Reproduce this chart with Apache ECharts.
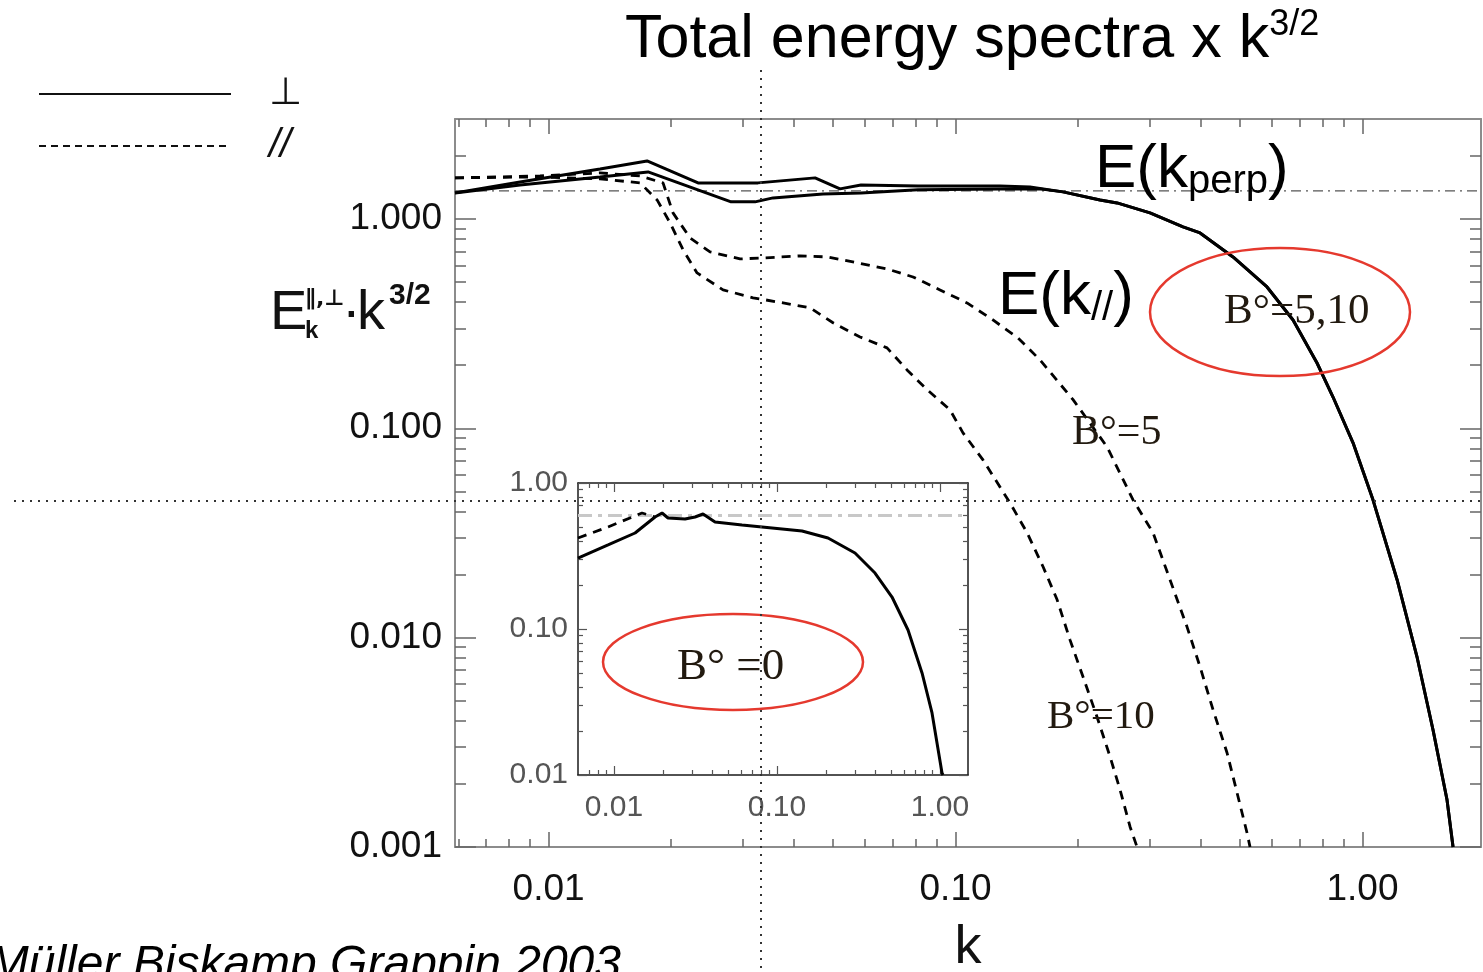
<!DOCTYPE html>
<html>
<head>
<meta charset="utf-8">
<title>Total energy spectra x k^3/2</title>
<script src="https://cdn.jsdelivr.net/npm/echarts@6/dist/echarts.min.js"></script>
<style>
  html, body { margin: 0; padding: 0; background: #fff; }
  #chart { width: 1483px; height: 972px; }
</style>
</head>
<body>
<div id="chart"></div>
<script>
// axis ranges
const mainK = [0.00589, 1.955];
const mainE = [0.001, 3.0];
const insetK = [0.00601, 1.485];
const insetE = [0.01, 1.0];

// tick positions
const kMajor = [0.01, 0.1, 1];
const kMinor = [0.006, 0.007, 0.008, 0.009, 0.02, 0.03, 0.04, 0.05, 0.06, 0.07, 0.08, 0.09,
  0.2, 0.3, 0.4, 0.5, 0.6, 0.7, 0.8, 0.9];
const eMajor = [0.001, 0.01, 0.1, 1];
const eMinor = [0.002, 0.003, 0.004, 0.005, 0.006, 0.007, 0.008, 0.009,
  0.02, 0.03, 0.04, 0.05, 0.06, 0.07, 0.08, 0.09,
  0.2, 0.3, 0.4, 0.5, 0.6, 0.7, 0.8, 0.9, 2];
const insetKMinor = [0.007, 0.008, 0.009, 0.02, 0.03, 0.04, 0.05, 0.06, 0.07, 0.08, 0.09,
  0.2, 0.3, 0.4, 0.5, 0.6, 0.7, 0.8, 0.9];
const insetEMinor = [0.02, 0.03, 0.04, 0.05, 0.06, 0.07, 0.08, 0.09,
  0.2, 0.3, 0.4, 0.5, 0.6, 0.7, 0.8, 0.9];

// [k, E k^3/2]  perpendicular spectra, B0 = 5 and B0 = 10
const perpB5 = [
  [0.00589, 1.331], [0.00851, 1.502], [0.01338, 1.733], [0.01746, 1.892], [0.0233, 1.486],
  [0.03271, 1.486], [0.04517, 1.570], [0.05202, 1.391], [0.05858, 1.453], [0.08089, 1.437],
  [0.1286, 1.437], [0.1524, 1.421], [0.1837, 1.346], [0.2265, 1.232], [0.2494, 1.192],
  [0.3005, 1.068], [0.3622, 0.916], [0.3989, 0.857], [0.4806, 0.658], [0.5826, 0.473],
  [0.675, 0.329], [0.7731, 0.205], [0.8463, 0.141], [0.9478, 0.0852], [1.061, 0.0455],
  [1.216, 0.0189], [1.361, 0.0081], [1.49, 0.00363], [1.613, 0.00168], [1.669, 0.001]
];
const perpB10 = [
  [0.00589, 1.331], [0.00851, 1.453], [0.01338, 1.587], [0.01756, 1.676], [0.02809, 1.206],
  [0.03217, 1.206], [0.03561, 1.260], [0.04725, 1.316], [0.05858, 1.331], [0.08089, 1.376],
  [0.1286, 1.391], [0.1613, 1.391], [0.1837, 1.346], [0.2265, 1.232], [0.2494, 1.192],
  [0.3005, 1.068], [0.3622, 0.916], [0.3989, 0.857], [0.4806, 0.658], [0.5826, 0.473],
  [0.675, 0.329], [0.7731, 0.205], [0.8463, 0.141], [0.9478, 0.0852], [1.061, 0.0455],
  [1.216, 0.0189], [1.361, 0.0081], [1.49, 0.00363], [1.613, 0.00168], [1.669, 0.001]
];
// parallel spectra
const parB5 = [
  [0.00589, 1.570], [0.00953, 1.604], [0.01338, 1.658], [0.01678, 1.604], [0.01911, 1.486],
  [0.02022, 1.068], [0.02227, 0.811], [0.02493, 0.696], [0.02955, 0.644], [0.03365, 0.651],
  [0.04148, 0.666], [0.04834, 0.658], [0.05728, 0.617], [0.06788, 0.577], [0.07863, 0.528],
  [0.0916, 0.458], [0.1067, 0.397], [0.1236, 0.329], [0.1424, 0.270], [0.1613, 0.212],
  [0.1944, 0.137], [0.2357, 0.0815], [0.273, 0.0455], [0.3057, 0.0317], [0.3365, 0.0189],
  [0.3705, 0.01126], [0.3989, 0.00725], [0.4293, 0.00452], [0.4646, 0.00282],
  [0.4916, 0.00182], [0.5202, 0.00117], [0.5292, 0.001]
];
const parB10 = [
  [0.00589, 1.570], [0.00953, 1.587], [0.01338, 1.553], [0.01678, 1.486], [0.01848, 1.232],
  [0.01989, 0.957], [0.02141, 0.711], [0.02317, 0.552], [0.02684, 0.458], [0.03181, 0.420],
  [0.0377, 0.397], [0.04391, 0.376], [0.05, 0.319], [0.05826, 0.273], [0.06788, 0.242],
  [0.076, 0.190], [0.08511, 0.153], [0.09694, 0.1224], [0.1043, 0.0951], [0.1168, 0.0706],
  [0.1361, 0.044], [0.1499, 0.0317], [0.1641, 0.0218], [0.1776, 0.0152], [0.1911, 0.00976],
  [0.2057, 0.0065], [0.2227, 0.00418], [0.2397, 0.0027], [0.2536, 0.00188],
  [0.2684, 0.00125], [0.2792, 0.001]
];
const refLevel = 1.36;

// inset, B0 = 0
const perpB0 = [
  [0.00601, 0.3064], [0.00919, 0.3762], [0.01346, 0.4545], [0.01785, 0.5851], [0.0197, 0.6229],
  [0.02144, 0.5757], [0.02727, 0.5667], [0.03141, 0.5851], [0.03516, 0.6132], [0.04165, 0.5406],
  [0.06099, 0.5157], [0.0809, 0.4997], [0.1424, 0.4691], [0.2055, 0.4201], [0.3009, 0.3316],
  [0.3992, 0.2418], [0.5076, 0.1656], [0.6364, 0.0984], [0.7757, 0.05], [0.8932, 0.0266],
  [1.0287, 0.01032], [1.043, 0.01]
];
const parB0 = [[0.00601, 0.4201], [0.00919, 0.4997], [0.01485, 0.6229], [0.01785, 0.5851]];
const insetRefLevel = 0.60;

const FONT = "'Liberation Sans', Arial, sans-serif";
const SERIF = "'Liberation Serif', 'Times New Roman', serif";
const SYM = "'DejaVu Sans', sans-serif";

const chart = echarts.init(document.getElementById('chart'));

// four log axes per dimension: near side major/minor, far side major/minor
function frame(dim, grid, range, major, minor, st) {
  const near = dim === 'x' ? 'bottom' : 'left';
  const far = dim === 'x' ? 'top' : 'right';
  const base = {
    gridIndex: grid, type: 'log', logBase: 10, min: range[0], max: range[1],
    splitLine: { show: false }, axisPointer: { show: false }
  };
  const line = { show: true, onZero: false, lineStyle: { color: st.lineColor, width: st.lineWidth } };
  const noLine = { show: false, onZero: false };
  const tick = (vals, len) => ({
    show: true, inside: true, length: len, customValues: vals,
    lineStyle: { color: st.tickColor, width: st.tickWidth }
  });
  return [
    Object.assign({}, base, {
      position: near, axisLine: line, axisTick: tick(major, st.majorLen), axisLabel: st.label,
      name: st.name || '', nameLocation: 'middle', nameGap: st.nameGap || 0,
      nameTextStyle: st.nameTextStyle || {}
    }),
    Object.assign({}, base, { position: near, axisLine: noLine, axisTick: tick(minor, st.minorLen), axisLabel: { show: false } }),
    Object.assign({}, base, { position: far, axisLine: line, axisTick: tick(major, st.majorLen), axisLabel: { show: false } }),
    Object.assign({}, base, { position: far, axisLine: noLine, axisTick: tick(minor, st.minorLen), axisLabel: { show: false } })
  ];
}

const mainStyle = { lineColor: '#8c8c8c', lineWidth: 2, tickColor: '#666', tickWidth: 1.5 };
const insetStyle = { lineColor: '#1a1a1a', lineWidth: 1.5, tickColor: '#555', tickWidth: 1.2, majorLen: 9, minorLen: 5 };

const xAxes = [].concat(
  frame('x', 0, mainK, kMajor, kMinor, Object.assign({}, mainStyle, {
    majorLen: 15, minorLen: 8,
    label: { customValues: kMajor, formatter: v => v.toFixed(2), fontSize: 37, fontFamily: FONT, color: '#111', margin: 24 },
    name: 'k', nameGap: 74, nameTextStyle: { fontSize: 54, fontFamily: FONT, color: '#111' }
  })),
  frame('x', 1, insetK, kMajor, insetKMinor, Object.assign({}, insetStyle, {
    label: { customValues: kMajor, formatter: v => v.toFixed(2), fontSize: 30, fontFamily: FONT, color: '#555', margin: 18 }
  }))
);
const yAxes = [].concat(
  frame('y', 0, mainE, eMajor, eMinor, Object.assign({}, mainStyle, {
    majorLen: 21, minorLen: 11,
    label: { customValues: eMajor, formatter: v => v.toFixed(3), fontSize: 37, fontFamily: FONT, color: '#111', margin: 13 }
  })),
  frame('y', 1, insetE, eMajor, insetEMinor, Object.assign({}, insetStyle, {
    label: { customValues: eMajor, formatter: v => v.toFixed(2), fontSize: 30, fontFamily: FONT, color: '#555', margin: 10 }
  }))
);

function curve(name, data, axis, dash, width, color) {
  return {
    name: name, type: 'line', xAxisIndex: axis, yAxisIndex: axis, data: data,
    symbol: 'none', silent: true, clip: true, color: color,
    lineStyle: { color: color, width: width, type: dash }
  };
}

const dashes = [9, 7];
const series = [
  curve('ref', [[mainK[0], refLevel], [mainK[1], refLevel]], 0, [10, 5, 2, 5], 1.2, '#555'),
  curve('⊥', perpB5, 0, 'solid', 3, '#000'),
  curve('⊥', perpB10, 0, 'solid', 3, '#000'),
  curve('//', parB5, 0, dashes, 2.8, '#000'),
  curve('//', parB10, 0, dashes, 2.8, '#000'),
  curve('ref0', [[insetK[0], insetRefLevel], [insetK[1], insetRefLevel]], 4, [14, 6, 4, 6], 3, '#c8c8c8'),
  curve('⊥', perpB0, 4, 'solid', 3, '#000'),
  curve('//', parB0, 4, dashes, 2.8, '#000')
];

// text pieces: each with own x (or chained) and baseline
const ctx = document.createElement('canvas').getContext('2d');
function textRun(x, base, parts) {
  const out = [];
  let cx = x;
  parts.forEach(p => {
    const font = (p.style || 'normal') + ' ' + (p.weight || 'normal') + ' ' + p.size + 'px ' + (p.family || FONT);
    ctx.font = font;
    const px = p.x != null ? p.x : cx;
    const b = (p.base != null ? p.base : base) + (p.dy || 0);
    out.push({
      type: 'text', z: 100, silent: true,
      style: {
        text: p.t, x: px, y: b - 0.35 * p.size, font: font, fill: p.color || '#111',
        textAlign: p.align || 'left', textVerticalAlign: 'middle', align: p.align || 'left', verticalAlign: 'middle'
      }
    });
    cx = px + ctx.measureText(p.t).width;
  });
  return out;
}

function dotted(x1, y1, x2, y2) {
  return {
    type: 'line', z: 120, silent: true,
    shape: { x1: x1, y1: y1, x2: x2, y2: y2 },
    style: { stroke: '#333', lineWidth: 2, lineDash: [2, 6] }
  };
}
function ring(cx, cy, rx, ry) {
  return {
    type: 'ellipse', z: 110, silent: true,
    shape: { cx: cx, cy: cy, rx: rx, ry: ry },
    style: { fill: 'none', stroke: '#e5392e', lineWidth: 2.5 }
  };
}

const graphics = [].concat(
  textRun(625, 62, [
    { t: 'Total energy spectra x k', size: 61, color: '#000' },
    { t: '3/2', size: 36, dy: -24, color: '#000' }
  ]),
  textRun(0, 333, [
    { t: 'E', size: 56, x: 270 },
    { t: '\u2225,\u22A5', size: 22, weight: 'bold', family: SYM, x: 305, base: 307 },
    { t: 'k', size: 24, weight: 'bold', x: 305, base: 340 },
    { t: '\u00B7', size: 56, x: 342 },
    { t: 'k', size: 56, x: 357 },
    { t: '3/2', size: 30, weight: 'bold', x: 389, base: 306 }
  ]),
  textRun(1095, 192, [
    { t: 'E(k', size: 62, color: '#000' },
    { t: 'perp', size: 40, dy: 4, color: '#000' },
    { t: ')', size: 62, color: '#000' }
  ]),
  textRun(998, 319, [
    { t: 'E(k', size: 62, color: '#000' },
    { t: '//', size: 40, dy: 4, color: '#000' },
    { t: ')', size: 62, color: '#000' }
  ]),
  textRun(1224, 327, [{ t: 'B\u00B0=5,10', size: 43, family: SERIF, color: '#221a10' }]),
  textRun(1072, 448, [{ t: 'B\u00B0=5', size: 42, family: SERIF, color: '#221a10' }]),
  textRun(1047, 732, [{ t: 'B\u00B0=10', size: 41, family: SERIF, color: '#221a10' }]),
  textRun(677, 683, [{ t: 'B\u00B0 =0', size: 45, family: SERIF, color: '#221a10' }]),
  textRun(0, 982, [{ t: 'M\u00FCller Biskamp Grappin 2003', size: 48, style: 'italic', x: 621, align: 'right', color: '#000' }]),
  [
    ring(1280, 312, 130, 64),
    ring(733, 662, 130, 48),
    dotted(761, 70, 761, 972),
    dotted(14, 501, 1483, 501)
  ]
);

chart.setOption({
  animation: false,
  backgroundColor: '#fff',
  grid: [
    { left: 455, top: 119, width: 1026, height: 728, show: false, outerBoundsMode: 'none', containLabel: false },
    { left: 578, top: 483, width: 390, height: 292, show: true, backgroundColor: '#fff', borderWidth: 0,
      outerBoundsMode: 'none', containLabel: false }
  ],
  legend: {
    orient: 'vertical', left: 38, top: 75, padding: 0,
    itemWidth: 192, itemHeight: 40, itemGap: 13, selectedMode: false,
    textStyle: { color: '#111', padding: [0, 0, 0, 33] },
    data: [
      { name: '\u22A5', lineStyle: { type: 'solid', width: 2, color: '#111' }, itemStyle: { opacity: 0 },
        textStyle: { fontFamily: SYM, fontSize: 38, color: '#111' } },
      { name: '//', lineStyle: { type: [7, 5], width: 2, color: '#111' }, itemStyle: { opacity: 0 },
        textStyle: { fontFamily: FONT, fontStyle: 'italic', fontSize: 40, color: '#111' } }
    ]
  },
  xAxis: xAxes,
  yAxis: yAxes,
  series: series,
  graphic: graphics
});
</script>
</body>
</html>
